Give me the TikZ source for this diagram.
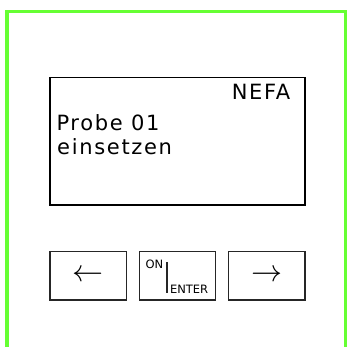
\documentclass[tikz,border=0pt]{standalone}
\usepackage{fontspec}
\newfontfamily\dispfont[LetterSpace=8]{DejaVu Sans}
\newfontfamily\keyfont{DejaVu Sans}
\definecolor{framegreen}{RGB}{102,255,51}
\begin{document}
\begin{tikzpicture}[x=1pt,y=-1pt,
  frame/.style={draw=framegreen,line width=3.5pt},
  display/.style={draw=black,line width=1.2pt},
  keybox/.style={draw=black!85,line width=1.4pt,minimum width=76.5pt,minimum height=48.5pt,inner sep=0pt},
  disptext/.style={inner sep=0pt,font=\dispfont\fontsize{21}{25}\selectfont},
  keytext/.style={inner sep=0pt,font=\keyfont\fontsize{11.5}{13}\selectfont}]
\useasboundingbox (0,0) rectangle (347,347);
\clip (0,0) rectangle (347,347);
\draw[frame] (7,11.5) rectangle (346,370);
\draw[display] (50,77.5) rectangle (305,205);
\node[disptext,anchor=base east] (nefa) at (290.5,100) {NEFA};
\node[disptext,anchor=base west] (probe) at (56.3,130.5) {Probe 01};
\node[disptext,anchor=base west] (einsetzen) at (57,155) {einsetzen};
\node[keybox] (leftkey) at (88.25,275.75) {\scalebox{3.1}{$\leftarrow$}};
\node[keybox] (enterkey) at (177.5,275.75) {};
\node[keybox] (rightkey) at (266.75,275.75) {\scalebox{3.1}{$\rightarrow$}};
\node[keytext,anchor=base west] (on) at (145.3,268) {ON};
\node[keytext,anchor=base west] (enter) at (169.8,293) {ENTER};
\coordinate (bartop) at (167,262);
\coordinate (barbot) at (167,292.5);
\draw[line width=1.4pt,black!85] (bartop) -- (barbot);
\end{tikzpicture}
\end{document}
